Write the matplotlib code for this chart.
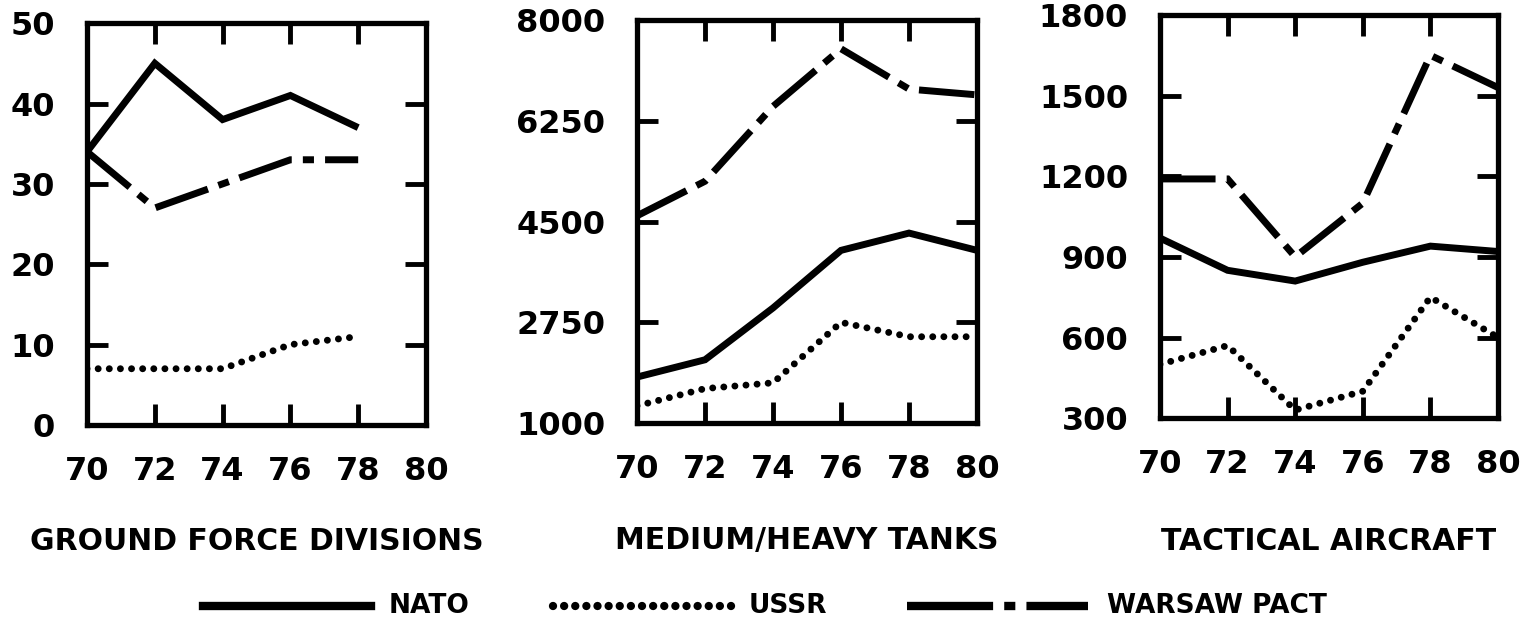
import matplotlib
matplotlib.use("Agg")
import matplotlib.pyplot as plt
from matplotlib.lines import Line2D

plt.rcParams["font.family"] = ["DejaVu Sans"]
plt.rcParams["font.weight"] = "bold"
plt.rcParams["lines.scale_dashes"] = False

years = [70, 72, 74, 76, 78, 80]

# Ground force divisions (no 1980 data)
div_years = [70, 72, 74, 76, 78]
div_nato = [34, 45, 38, 41, 37]
div_ussr = [7, 7, 7, 10, 11]
div_warsaw = [34, 27, 30, 33, 33]

# Medium/heavy tanks
tank_nato = [1800, 2100, 3000, 4000, 4300, 4000]
tank_ussr = [1300, 1600, 1700, 2750, 2500, 2500]
tank_warsaw = [4600, 5200, 6500, 7500, 6800, 6700]

# Tactical aircraft
air_nato = [970, 850, 810, 880, 940, 920]
air_ussr = [500, 570, 330, 400, 750, 600]
air_warsaw = [1190, 1190, 900, 1100, 1650, 1530]

titles = ["GROUND FORCE DIVISIONS", "MEDIUM/HEAVY TANKS", "TACTICAL AIRCRAFT"]
y_ticks = [[0, 10, 20, 30, 40, 50],
           [1000, 2750, 4500, 6250, 8000],
           [300, 600, 900, 1200, 1500, 1800]]
x_ticks = [70, 72, 74, 76, 78, 80]

fig = plt.figure(figsize=(15.35, 6.25), dpi=100)
positions = [
    [0.0567, 0.320, 0.2208, 0.643],
    [0.4150, 0.323, 0.2215, 0.645],
    [0.7557, 0.331, 0.2202, 0.645],
]
panels = [
    (div_years, div_nato, div_ussr, div_warsaw),
    (years, tank_nato, tank_ussr, tank_warsaw),
    (years, air_nato, air_ussr, air_warsaw),
]

LW = 5.0
dot_style = (0, (0.01, 8))
wp_style = (0, (40, 8, 8, 8))

for i, (pos, (xs, nato, ussr, wp)) in enumerate(zip(positions, panels)):
    ax = fig.add_axes(pos)
    ax.plot(xs, nato, color="black", lw=LW, solid_joinstyle="miter",
            solid_capstyle="butt")
    ax.plot(xs, ussr, color="black", lw=LW, linestyle=dot_style,
            dash_capstyle="round")
    ax.plot(xs, wp, color="black", lw=LW, linestyle=wp_style,
            dash_capstyle="butt", dash_joinstyle="miter")
    ax.set_xlim(70, 80)
    ax.set_ylim(y_ticks[i][0], y_ticks[i][-1])
    ax.set_xticks(x_ticks)
    ax.set_yticks(y_ticks[i])
    ax.tick_params(direction="in", length=15, width=3.5, top=True,
                   right=True, labelsize=23)
    ax.tick_params(axis="y", pad=23)
    ax.tick_params(axis="x", pad=22)
    for sp in ax.spines.values():
        sp.set_linewidth(3.8)
    xc = pos[0] + pos[2] / 2
    fig.text(xc, 1 - 541 / 625, titles[i], fontsize=21.5, fontweight="bold",
             ha="center", va="center")

# legend row
legend_items = [
    ("NATO", "-", 0.132, 0.242, 0.253),
    ("USSR", dot_style, 0.360, 0.478, 0.488),
    ("WARSAW PACT", (0, (62, 8, 8, 8, 60)), 0.591, 0.709, 0.721),
]
y_leg = 1 - 606 / 625
for label, ls, x0, x1, xt in legend_items:
    ln = Line2D([x0, x1], [y_leg, y_leg], transform=fig.transFigure,
                color="black", lw=LW + 1, linestyle=ls,
                dash_capstyle="round" if label == "USSR" else "butt")
    fig.add_artist(ln)
    fig.text(xt, y_leg, label, fontsize=19, va="center", ha="left",
             fontweight="bold")

fig.savefig("out.png", dpi=100)
